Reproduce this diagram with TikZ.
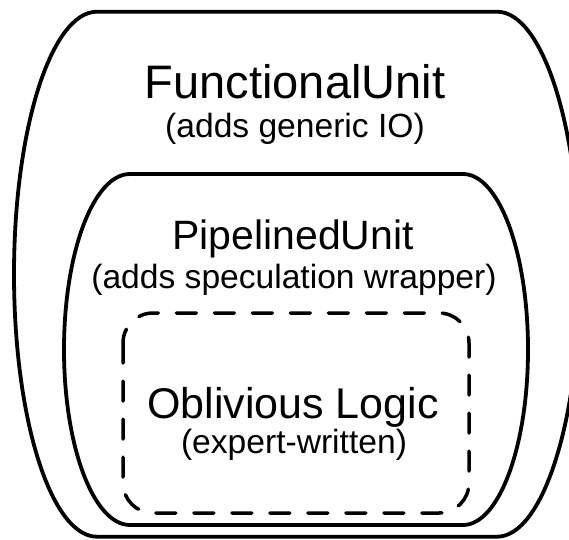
\documentclass[tikz,border=0pt]{standalone}
\usepackage{fontspec}
\setmainfont{Liberation Sans}
\usepackage{tikz}

\begin{document}
\begin{tikzpicture}
	[x=1pt,y=1pt,line cap=round,line join=round,
	%Styles
	unit line/.style={line width=3.8pt},
	logic line/.style={line width=3.5pt,dash pattern=on 20pt off 18pt},
	title text/.style={anchor=base,font=\fontsize{#1}{#1}\selectfont},
	note text/.style={anchor=base,font=\fontsize{33.6}{40}\selectfont}
	]
	
	\useasboundingbox (0,0) rectangle (569,539);
	\clip (0,0) rectangle (569,539);
	
	%The graphic
	% outer unit
	\draw[unit line] (97,527.3) -- (497,527.3)
		arc[start angle=90,end angle=-90,x radius=83,y radius=262.5]
		-- (97,2.3)
		arc[start angle=270,end angle=90,x radius=83,y radius=262.5] -- cycle;
	
	% pipelined unit
	\draw[unit line] (130,365) -- (463,365)
		arc[start angle=90,end angle=-90,x radius=65,y radius=175.5]
		-- (130,14)
		arc[start angle=270,end angle=90,x radius=66,y radius=175.5] -- cycle;
	
	% oblivious logic
	\draw[logic line,rounded corners=30pt] (123,226) rectangle (469,26);
	
	\node[title text=47] (fu) at (295,440) {FunctionalUnit};
	\node[note text] (fuio) at (295,401) {(adds generic IO)};
	
	\node[title text=41] (pu) at (293,290) {PipelinedUnit};
	\node[note text] (puwrap) at (294,251) {(adds speculation wrapper)};
	
	\node[title text=43] (ol) at (293,121) {Oblivious Logic};
	\node[note text] (olexp) at (294,86) {(expert-written)};
\end{tikzpicture}
\end{document}
